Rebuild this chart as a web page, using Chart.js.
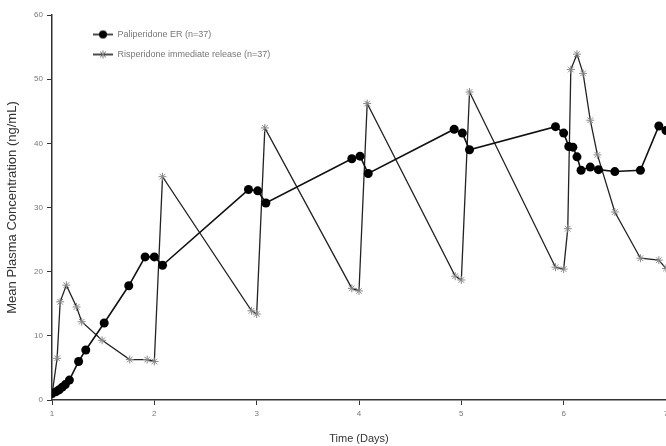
<!DOCTYPE html>
<html>
<head>
<meta charset="utf-8">
<script src="https://cdn.jsdelivr.net/npm/chart.js@4/dist/chart.umd.min.js"></script>
<style>
  html, body { margin: 0; padding: 0; background: #fff; overflow: hidden; }
  canvas { display: block; }
</style>
</head>
<body>
<canvas id="chart" width="666" height="446"></canvas>
<script>
// Paliperidone ER: Zeit (Tage) und Konzentration (ng/mL)
const paliDays = [1.0, 1.04, 1.07, 1.1, 1.13, 1.17, 1.26, 1.33, 1.51, 1.75, 1.91, 2.0, 2.08,
  2.92, 3.01, 3.09, 3.93, 4.01, 4.09, 4.93, 5.01, 5.08,
  5.92, 6.0, 6.05, 6.09, 6.13, 6.17, 6.26, 6.34, 6.5, 6.75, 6.93, 7.0];
const paliConc = [1.0, 1.3, 1.6, 2.0, 2.4, 3.1, 6.0, 7.8, 12.0, 17.8, 22.3, 22.3, 21.0,
  32.8, 32.6, 30.7, 37.6, 38.0, 35.3, 42.2, 41.6, 39.0,
  42.6, 41.6, 39.5, 39.4, 37.9, 35.8, 36.3, 35.9, 35.6, 35.8, 42.7, 42.0];

// Risperidone (sofortige Freisetzung)
const rispDays = [1.0, 1.05, 1.08, 1.14, 1.24, 1.29, 1.49, 1.76, 1.93, 2.0, 2.08,
  2.95, 3.0, 3.08, 3.93, 4.0, 4.08, 4.94, 5.0, 5.08,
  5.92, 6.0, 6.04, 6.07, 6.13, 6.19, 6.26, 6.33, 6.5, 6.75, 6.93, 7.0];
const rispConc = [0.8, 6.5, 15.3, 17.9, 14.5, 12.2, 9.3, 6.3, 6.3, 6.0, 34.8,
  13.9, 13.4, 42.4, 17.4, 17.0, 46.2, 19.3, 18.7, 48.0,
  20.7, 20.4, 26.7, 51.5, 53.9, 50.9, 43.6, 38.2, 29.3, 22.1, 21.8, 20.5];

const seriesNames = ['Paliperidone ER (n=37)', 'Risperidone immediate release (n=37)'];
const xTicks = [1, 2, 3, 4, 5, 6, 7];
const yTicks = [0, 10, 20, 30, 40, 50, 60];

const toPoints = (xs, ys) => xs.map((x, i) => ({ x: x, y: ys[i] }));

// kleine Legendensymbole: Linie mit Marker
function legendIcon(kind) {
  const c = document.createElement('canvas');
  c.width = 22; c.height = 10;
  const g = c.getContext('2d');
  g.strokeStyle = '#111';
  g.lineWidth = 1.5;
  g.beginPath(); g.moveTo(1, 5); g.lineTo(21, 5); g.stroke();
  if (kind === 'circle') {
    g.fillStyle = '#000';
    g.beginPath(); g.arc(11, 5, 4, 0, Math.PI * 2); g.fill();
  } else {
    g.strokeStyle = '#777';
    g.lineWidth = 1;
    g.beginPath();
    g.moveTo(11, 1); g.lineTo(11, 9);
    g.moveTo(8, 2); g.lineTo(14, 8);
    g.moveTo(14, 2); g.lineTo(8, 8);
    g.stroke();
  }
  return c;
}
const icons = [legendIcon('circle'), legendIcon('star')];

// Legende innerhalb der Zeichenfläche verschieben
const legendShift = {
  id: 'legendShift',
  afterLayout(chart) {
    if (chart.legend) {
      chart.legend.left += 30;
      chart.legend.top = chart.chartArea.top + 4;
    }
  }
};

const axisColor = '#333';
const tickFont = { family: 'Liberation Sans', size: 8 };

new Chart(document.getElementById('chart'), {
  type: 'line',
  data: {
    datasets: [
      {
        label: seriesNames[0],
        data: toPoints(paliDays, paliConc),
        borderColor: '#111',
        borderWidth: 1.6,
        pointStyle: 'circle',
        pointRadius: 4.5,
        pointBackgroundColor: '#000',
        pointBorderColor: '#000',
        pointBorderWidth: 0,
        tension: 0
      },
      {
        label: seriesNames[1],
        data: toPoints(rispDays, rispConc),
        borderColor: '#222',
        borderWidth: 1.3,
        pointStyle: 'star',
        pointRadius: 4,
        pointBackgroundColor: '#888',
        pointBorderColor: '#888',
        pointBorderWidth: 1,
        tension: 0
      }
    ]
  },
  options: {
    responsive: false,
    animation: false,
    layout: { autoPadding: false, padding: { top: 15, right: 0, left: 0, bottom: 0 } },
    plugins: {
      legend: {
        position: 'chartArea',
        align: 'start',
        labels: {
          usePointStyle: true,
          pointStyleWidth: 20,
          padding: 11,
          color: '#777',
          font: { family: 'Liberation Sans', size: 9 },
          generateLabels: (chart) => chart.data.datasets.map((ds, i) => ({
            text: ds.label,
            pointStyle: icons[i],
            fontColor: '#777',
            datasetIndex: i,
            hidden: false,
            lineWidth: 0,
            strokeStyle: 'transparent',
            fillStyle: 'transparent'
          }))
        }
      },
      tooltip: { enabled: false }
    },
    scales: {
      x: {
        type: 'linear',
        min: 1,
        max: 7,
        afterBuildTicks: (scale) => { scale.ticks = xTicks.map(v => ({ value: v })); },
        afterFit: (scale) => { scale.height = 46; scale.paddingLeft = 0; scale.paddingRight = 0; },
        grid: { drawOnChartArea: false, drawTicks: true, tickLength: 5, color: axisColor },
        border: { color: axisColor, width: 1.5 },
        ticks: { color: '#777', font: tickFont, padding: 4, maxRotation: 0 },
        title: {
          display: true,
          text: 'Time (Days)',
          color: '#333',
          font: { family: 'Liberation Sans', size: 11 },
          padding: { top: 3, bottom: 0 }
        }
      },
      y: {
        type: 'linear',
        min: 0,
        max: 60,
        afterBuildTicks: (scale) => { scale.ticks = yTicks.map(v => ({ value: v })); },
        afterFit: (scale) => { scale.width = 52; },
        grid: { drawOnChartArea: false, drawTicks: true, tickLength: 5, color: axisColor },
        border: { color: axisColor, width: 1.5 },
        ticks: { color: '#777', font: tickFont, padding: 4 },
        title: {
          display: true,
          text: 'Mean Plasma Concentration (ng/mL)',
          color: '#333',
          font: { family: 'Liberation Sans', size: 13 },
          padding: { top: 5, bottom: 0 }
        }
      }
    }
  },
  plugins: [legendShift]
});
</script>
</body>
</html>
